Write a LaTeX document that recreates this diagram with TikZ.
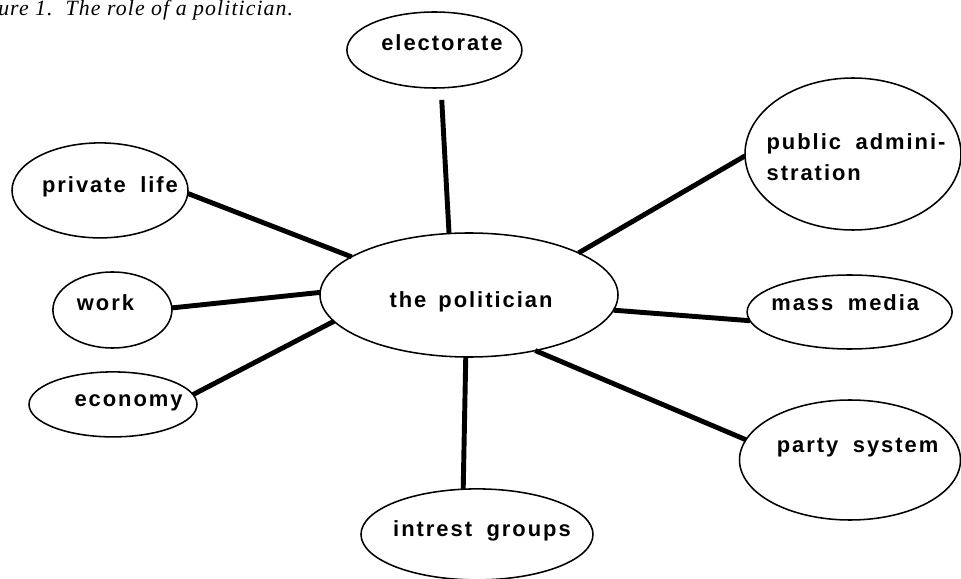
\documentclass[tikz,border=0pt]{standalone}
\usepackage{fontspec}
\usepackage{tikz}
\usetikzlibrary{shapes.geometric}
\newfontfamily\letterfont{Liberation Sans}[LetterSpace=9,WordSpace=1.8]
\newfontfamily\captionfont{Liberation Serif}[LetterSpace=5]

\begin{document}
\begin{tikzpicture}[
  bubble/.style={ellipse,draw,line width=1.1pt,inner sep=0pt,outer sep=0pt},
  lettering/.style={font=\letterfont\bfseries\fontsize{15.6}{22}\selectfont,inner sep=0pt},
  link/.style={line width=3.5pt}
]
\useasboundingbox (0,0) rectangle (24.025,-14.475);
\node[anchor=base west,inner sep=0pt,font=\captionfont\itshape\fontsize{15.5}{18}\selectfont] (caption) at (-0.05,-0.38) {ure 1.\ \ The role of a politician.};
% centre
\node[bubble,minimum width=7.45cm,minimum height=3.1cm,label={[lettering,shift={(0.05,-0.175)}]center:the\hspace{0.3cm}politician}] (pol) at (11.725,-7.375) {};
% left side
\node[bubble,minimum width=4.4cm,minimum height=2.375cm,label={[lettering,shift={(0.25,0.09)}]center:private life}] (private) at (2.5,-4.76) {};
\node[bubble,minimum width=2.975cm,minimum height=1.9cm,label={[lettering,shift={(-0.175,0.175)}]center:work}] (work) at (2.81,-7.75) {};
\node[bubble,minimum width=4.2cm,minimum height=1.625cm,label={[lettering,shift={(0.39,0.04)}]center:economy}] (economy) at (2.825,-10.11) {};
% top and bottom
\node[bubble,minimum width=4.375cm,minimum height=1.9cm,label={[lettering,shift={(0.19,0.175)}]center:electorate}] (elect) at (10.86,-1.25) {};
\node[bubble,minimum width=5.8cm,minimum height=2.275cm,label={[lettering,shift={(0.125,0.09)}]center:intrest groups}] (interest) at (11.925,-13.36) {};
% right side
\node[bubble,minimum width=5.4cm,minimum height=3.8cm,label={[lettering,align=left,shift={(0.075,-0.09)}]center:{public admini-\\stration}}] (admin) at (21.325,-3.85) {};
\node[bubble,minimum width=5.125cm,minimum height=1.85cm,label={[lettering,shift={(-0.11,0.225)}]center:mass media}] (media) at (21.24,-7.8) {};
\node[bubble,minimum width=5.525cm,minimum height=3cm,label={[lettering,shift={(0.19,0.3)}]center:party system}] (party) at (21.25,-11.5) {};

\draw[link,shorten <=0.3cm] (elect.-80) -- (pol.108);
\draw[link] (private.-2) -- (pol.162);
\draw[link] (work.2) -- (pol.179);
\draw[link] (economy.7) -- (pol.191);
\draw[link] (pol.21) -- (admin.181);
\draw[link] (pol.-6) -- (media.185);
\draw[link] (pol.-40) -- (party.169);
\draw[link] (pol.-93) -- (interest.107);
\end{tikzpicture}
\end{document}
